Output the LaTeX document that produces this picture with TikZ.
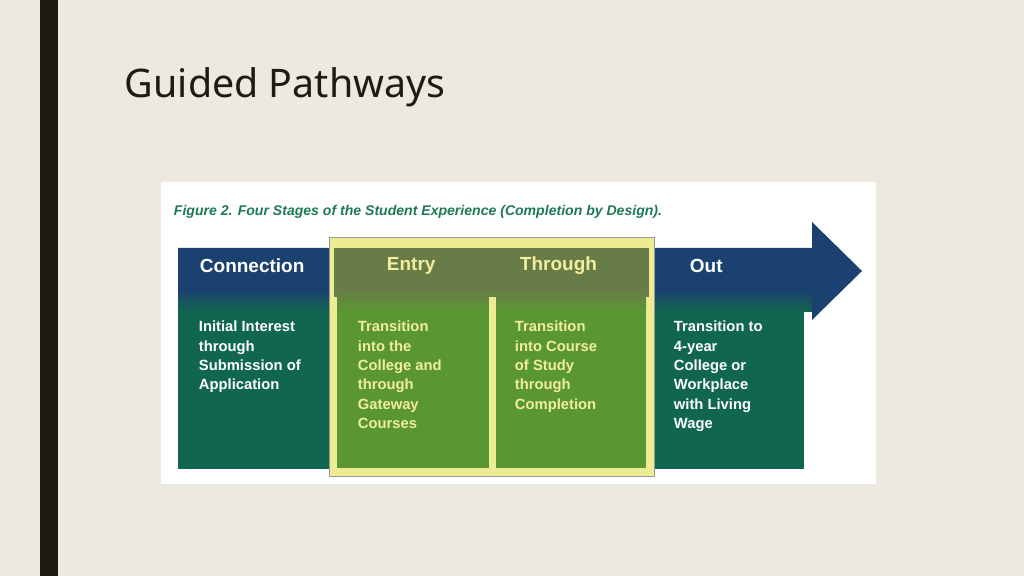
\documentclass[tikz,border=0pt]{standalone}
\usepackage{fontspec}
\setmainfont{Liberation Sans}
\newfontfamily\titlefont{Noto Sans}
\definecolor{slidebg}{HTML}{ECE9E1}
\definecolor{barblack}{HTML}{1C1C14}
\definecolor{stageblue}{HTML}{1B4170}
\definecolor{stagegreen}{HTML}{11664F}
\definecolor{capgreen}{HTML}{1E7A55}
\definecolor{hiyellow}{HTML}{EEEC92}
\definecolor{hiolive}{HTML}{687C48}
\definecolor{higreen}{HTML}{5A9733}
\definecolor{paleyellow}{HTML}{F2EE9C}
\tikzset{
  head/.style={anchor=west,font=\fontsize{13.5pt}{14pt}\selectfont\bfseries},
  body/.style={anchor=north west,align=left,font=\fontsize{10.5pt}{13.8pt}\selectfont\bfseries}
}
\begin{document}
\begin{tikzpicture}[x=0.025cm,y=-0.025cm]
            % slide background
            \fill [slidebg] (0,0) rectangle (1024,576);
            \useasboundingbox (0,0) rectangle (1024,576);
            \fill [barblack] (40,0) rectangle (58,576);
            \node [anchor=west,font=\fontsize{28pt}{30pt}\selectfont\titlefont,color=barblack] (title) at (120,87) {Guided Pathways};
            % white panel
            \fill [white] (161,182) rectangle (876,484);
            \node [anchor=west,color=capgreen,font=\fontsize{10pt}{10pt}\selectfont\bfseries\itshape] (caption) at (169,212) {Figure 2. Four Stages of the Student Experience (Completion by Design).};
            % arrow band
            \fill [stagegreen] (178,300) rectangle (804,469);
            \shade [top color=stageblue,bottom color=stagegreen] (178,290) rectangle (812,312);
            \fill [stageblue] (178,248) -- (812,248) -- (812,222) -- (862,271) -- (812,320) -- (812,290) -- (178,290) -- cycle;
            % highlight box
            \fill [hiyellow,draw=black!40,line width=0.4] (329,237) rectangle (654,476);
            \fill [hiolive] (334,248) rectangle (649,297);
            \shade [top color=hiolive,bottom color=higreen] (337,290) rectangle (646,310);
            \fill [hiyellow] (489,297) rectangle (496,468);
            \fill [higreen] (337,310) rectangle (489,468);
            \fill [higreen] (496,310) rectangle (646,468);
            % stage headings
            \node [head,color=white] (connection) at (195,266) {Connection};
            \node [head,color=paleyellow] (entry) at (382,266) {Entry};
            \node [head,color=paleyellow] (through) at (515,266) {Through};
            \node [head,color=white] (out) at (685,266) {Out};
            % stage texts
            \node [body,color=white] (connectiontext) at (194,316) {Initial Interest\\through\\Submission of\\Application};
            \node [body,color=paleyellow] (entrytext) at (353,316) {Transition\\into the\\College and\\through\\Gateway\\Courses};
            \node [body,color=paleyellow] (throughtext) at (510,316) {Transition\\into Course\\of Study\\through\\Completion};
            \node [body,color=white] (outtext) at (669,316) {Transition to\\4-year\\College or\\Workplace\\with Living\\Wage};
         \end{tikzpicture}
\end{document}
